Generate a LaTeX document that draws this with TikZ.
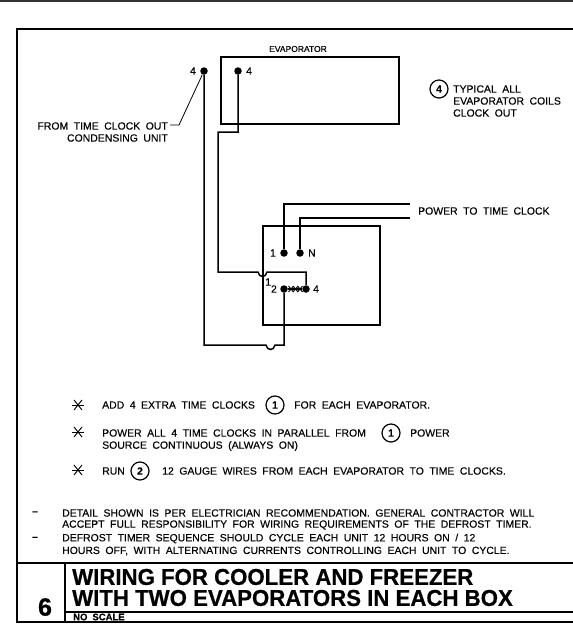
\documentclass[tikz,border=0pt]{standalone}
\usepackage{fontspec}
\setmainfont[WordSpace=1.9, FakeBold=0.25]{Liberation Sans}
\newfontfamily\headfont[FakeStretch=0.966, FakeBold=0.6]{Liberation Sans Bold}
\newfontfamily\numfont[FakeBold=0.6]{Liberation Sans Bold}
\usetikzlibrary{positioning}
\tikzstyle{note} = [inner sep=0pt, anchor=west, font=\fontsize{10.45}{12}\selectfont]
\tikzstyle{rnote} = [inner sep=0pt, anchor=east, font=\fontsize{10.45}{12}\selectfont]
\tikzstyle{terminal} = [circle, fill=black, inner sep=0pt, minimum size=7.5pt]
\tikzstyle{bubble} = [circle, draw=black, line width=1.2pt, inner sep=0pt, minimum size=18pt, font=\fontsize{10.45}{12}\selectfont\bfseries]
\tikzstyle{wire} = [line width=1.5pt]
\tikzstyle{border} = [line width=1.8pt]
\tikzstyle{headline} = [inner sep=0pt, anchor=west, font=\fontsize{23}{25}\headfont]
\tikzstyle{tick} = [line width=0.9pt]

\begin{document}
\begin{tikzpicture}[x=1pt, y=-1pt]
\useasboundingbox (0,0) rectangle (573,624);

\draw [line width=2pt, draw=black!80] (0,1) -- (573,1);
\draw [border] (17,29) rectangle (574,622);
\draw [border] (17,563) -- (573,563);
\draw [border] (65,563) -- (65,622);
\draw [wire] (65,612) -- (573,612);

\draw [wire] (221,57) rectangle (399,124);
\draw [wire] (263,226) rectangle (380,325);

\node (evap) [note, anchor=center, font=\fontsize{8.5}{10}\selectfont] at (298,49) {EVAPORATOR};

\node (inA) [terminal] at (204,71) {};
\node (inB) [terminal] at (238,71) {};
\node (t1) [terminal] at (284,253) {};
\node (tN) [terminal] at (300,253) {};
\node (t2) [terminal] at (284,289) {};
\node (t4) [terminal] at (306,289) {};

\node (inAlbl) [rnote, left=4pt of inA] {4};
\node (inBlbl) [note, right=4pt of inB] {4};
\node (t1lbl) [rnote, left=4pt of t1] {1};
\node (tNlbl) [note, right=4pt of tN] {N};
\node (t2lbl) [rnote, left=3pt of t2] {2};
\node (t4lbl) [note, right=3pt of t4] {4};
\node (jumplbl) [note] at (265,282) {1};

\coordinate (pwrA) at (410,204);
\coordinate (pwrB) at (410,218);
\draw [wire] (t1) |- (pwrA);
\draw [wire] (tN) |- (pwrB);

\draw [wire] (inA) -- (204,345) -- (266,345) .. controls (267,351) and (274,351) .. (275,345) -- (284,345) -- (t2);
\draw [wire] (inB) -- (238,132) -- (218,132) -- (218,272) -- (258,272) .. controls (259,278) and (266,278) .. (267,272) -- (306,272) -- (t4);

\draw [wire] (t2) -- (t4);
\foreach \px in {291,295.5,300} {
  \draw [tick] (\px-2.5,286) -- (\px+2.5,292);
  \draw [tick] (\px-2.5,292) -- (\px+2.5,286);
}

\node (from) [rnote] at (168,126) {FROM TIME CLOCK OUT};
\node (cond) [rnote] at (168,138) {CONDENSING UNIT};
\draw [line width=0.8pt] (from.east) ++(2,-1) -- (179,125) -- (inA);

\node (typ) [bubble] at (439,89) {4};
\node (typA) [note] at (453,89) {TYPICAL ALL};
\node (typB) [note] at (453,101) {EVAPORATOR COILS};
\node (typC) [note] at (453,113) {CLOCK OUT};

\node (pwr) [note] at (418,211) {POWER TO TIME CLOCK};

\foreach \py in {405,432,470} {
  \draw [tick] (72,\py) -- (84,\py);
  \draw [tick] (74,\py-5) -- (82,\py+5);
  \draw [tick] (74,\py+5) -- (82,\py-5);
}

\node (add) [note] at (102,405) {ADD 4 EXTRA TIME CLOCKS};
\node (addone) [bubble] at (275,405) {1};
\node (addend) [note] at (294,405) {FOR EACH EVAPORATOR.};
\node (all) [note] at (102,433) {POWER ALL 4 TIME CLOCKS IN PARALLEL FROM};
\node (allone) [bubble] at (391,433) {1};
\node (allend) [note] at (410,433) {POWER};
\node (src) [note] at (102,446) {SOURCE CONTINUOUS (ALWAYS ON)};
\node (run) [note] at (102,471) {RUN};
\node (runtwo) [bubble] at (140,471) {2};
\node (runend) [note] at (162,471) {12 GAUGE WIRES FROM EACH EVAPORATOR TO TIME CLOCKS.};

\node (dashA) [note, font=\fontsize{10.45}{12}\selectfont\bfseries] at (32,513) {--};
\node (detA) [note] at (62,513) {DETAIL SHOWN IS PER ELECTRICIAN RECOMMENDATION. GENERAL CONTRACTOR WILL};
\node (detB) [note] at (62,525) {ACCEPT FULL RESPONSIBILITY FOR WIRING REQUIREMENTS OF THE DEFROST TIMER.};
\node (dashB) [note, font=\fontsize{10.45}{12}\selectfont\bfseries] at (32,538.5) {--};
\node (detC) [note] at (62,538.5) {DEFROST TIMER SEQUENCE SHOULD CYCLE EACH UNIT 12 HOURS ON / 12};
\node (detD) [note] at (62,551) {HOURS OFF, WITH ALTERNATING CURRENTS CONTROLLING EACH UNIT TO CYCLE.};

\node (headA) [headline] at (72,577) {WIRING FOR COOLER AND FREEZER};
\node (headB) [headline] at (72,598) {WITH TWO EVAPORATORS IN EACH BOX};
\node (num) [inner sep=0pt, font=\fontsize{25}{27}\numfont] at (45,607) {6};
\node (scale) [note, font=\fontsize{9.5}{10}\selectfont\bfseries] at (73,617) {NO SCALE};

\end{tikzpicture}
\end{document}
